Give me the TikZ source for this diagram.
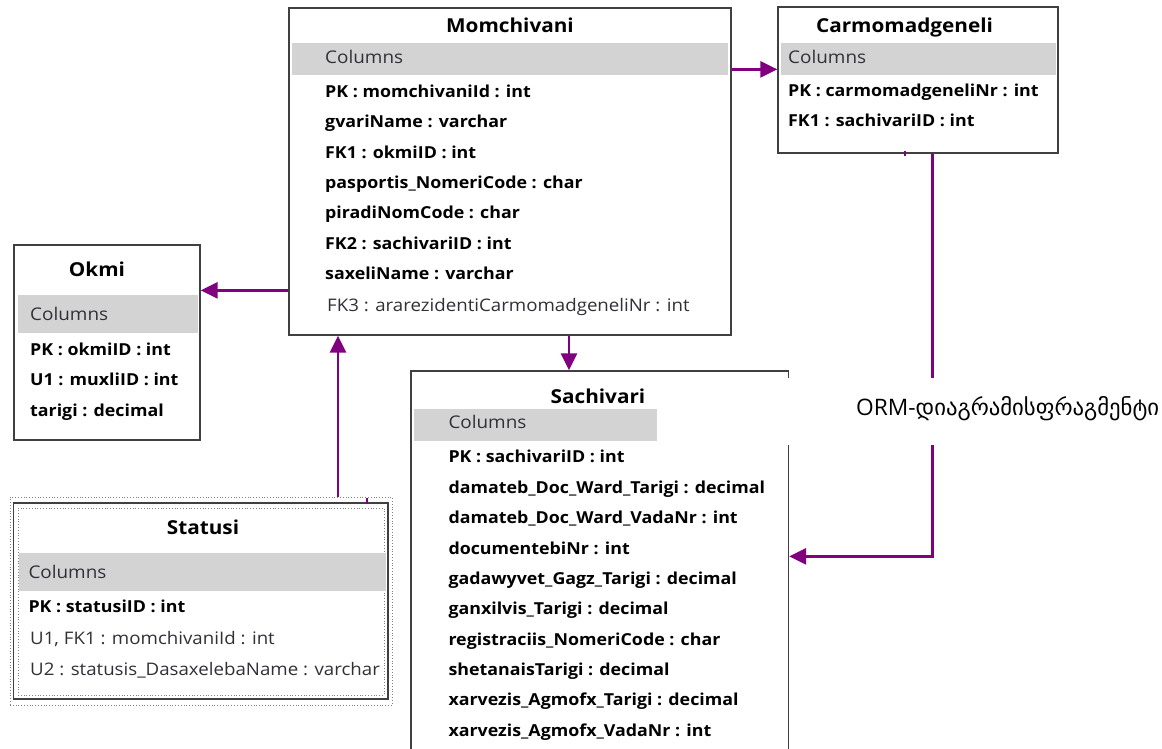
\documentclass[tikz,border=0pt]{standalone}
\usepackage{fontspec}
\setmainfont{Open Sans}[FakeStretch=1.08]
\newfontfamily\capfont{Open Sans}
\newfontfamily\geofont{DejaVu Sans}
\usetikzlibrary{arrows.meta}
\definecolor{purp}{HTML}{800080}
\definecolor{bordr}{HTML}{404040}
\definecolor{barg}{HTML}{D3D3D3}
\definecolor{txtg}{HTML}{303038}
\begin{document}
\begin{tikzpicture}[x=1pt,y=-1pt,
 tbl/.style={draw=bordr,line width=1.3pt,inner sep=0pt,fill=white},
 bar/.style={fill=barg,draw=none,inner sep=0pt},
 ttl/.style={font=\fontsize{19.2}{22}\selectfont\bfseries,inner sep=0pt,anchor=base,text=black},
 colh/.style={font=\fontsize{17.5}{20}\selectfont,anchor=base west,inner sep=0pt,text=txtg},
 rowb/.style={font=\fontsize{16.5}{19}\selectfont\bfseries,anchor=base west,inner sep=0pt,text=black},
 rown/.style={font=\fontsize{17.3}{20}\selectfont,anchor=base west,inner sep=0pt,text=txtg},
 link/.style={draw=purp,line width=2.6pt,-{Triangle[length=17pt,width=16pt]}},
 dotbox/.style={draw=gray,line width=0.8pt,dotted,inner sep=0pt},
]
\useasboundingbox (0,0) rectangle (1162,748);
\fill[white] (0,0) rectangle (1162,748);

% ---------- Momchivani ----------
\node[tbl,minimum width=442pt,minimum height=327pt] (mom) at (510,171.5) {};
\node[bar,minimum width=436pt,minimum height=32pt] (mombar) at (510,59) {};
\node[ttl] (momt) at (510,32) {Momchivani};
\node[colh] (momc) at (325,63) {Columns};
\node[rowb] (m1) at (325,97.3) {PK : momchivaniId : int};
\node[rowb] (m2) at (325,127.6) {gvariName : varchar};
\node[rowb] (m3) at (325,158) {FK1 : okmiID : int};
\node[rowb] (m4) at (325,188.3) {pasportis\_NomeriCode : char};
\node[rowb] (m5) at (325,218.6) {piradiNomCode : char};
\node[rowb] (m6) at (325,249) {FK2 : sachivariID : int};
\node[rowb] (m7) at (325,279.3) {saxeliName : varchar};
\node[rown] (m8) at (327,311.7) {FK3 : ararezidentiCarmomadgeneliNr : int};

% ---------- Carmomadgeneli ----------
\node[tbl,minimum width=280pt,minimum height=146pt] (carmo) at (918,80) {};
\node[bar,minimum width=275pt,minimum height=32pt] (carmobar) at (918.5,59) {};
\node[ttl] (carmot) at (904.5,32) {Carmomadgeneli};
\node[colh] (carmoc) at (788,63.3) {Columns};
\node[rowb] (c1) at (788,96.7) {PK : carmomadgeneliNr : int};
\node[rowb] (c2) at (788,126.7) {FK1 : sachivariID : int};

% ---------- Okmi ----------
\node[tbl,minimum width=186pt,minimum height=195pt] (okmi) at (107,342.5) {};
\node[bar,minimum width=180pt,minimum height=38pt] (okmibar) at (108,314) {};
\node[ttl] (okmit) at (97,276.7) {Okmi};
\node[colh] (okmic) at (30,320.7) {Columns};
\node[rowb] (o1) at (30,355) {PK : okmiID : int};
\node[rowb] (o2) at (30,385) {U1 : muxliID : int};
\node[rowb] (o3) at (30,416) {tarigi : decimal};

% ---------- Statusi ----------
\node[dotbox,minimum width=382pt,minimum height=208pt] (statout) at (201,601) {};
\node[tbl,minimum width=374.5pt,minimum height=196pt] (stat) at (200.75,601) {};
\node[dotbox,minimum width=366pt,minimum height=187pt] (statin) at (201,601.5) {};
\node[bar,minimum width=367pt,minimum height=38pt] (statbar) at (202,572) {};
\node[ttl] (statt) at (203,534.3) {Statusi};
\node[colh] (statc) at (28.3,578.3) {Columns};
\node[rowb] (s1) at (28.3,612.7) {PK : statusiID : int};
\node[rown] (s2) at (30,644) {U1, FK1 : momchivaniId : int};
\node[rown] (s3) at (30,675) {U2 : statusis\_DasaxelebaName : varchar};

% ---------- Sachivari ----------
\node[tbl,minimum width=377.5pt,minimum height=390pt] (sach) at (599.75,566) {};
\node[bar,minimum width=372pt,minimum height=32pt] (sachbar) at (600,425) {};
\node[ttl] (sacht) at (598,403.3) {Sachivari};
\node[colh] (sachc) at (448.3,428.3) {Columns};
\node[rowb] (r1) at (448.3,462.7) {PK : sachivariID : int};
\node[rowb] (r2) at (448.3,493) {damateb\_Doc\_Ward\_Tarigi : decimal};
\node[rowb] (r3) at (448.3,523.5) {damateb\_Doc\_Ward\_VadaNr : int};
\node[rowb] (r4) at (448.3,554) {documentebiNr : int};
\node[rowb] (r5) at (448.3,584) {gadawyvet\_Gagz\_Tarigi : decimal};
\node[rowb] (r6) at (448.3,614.5) {ganxilvis\_Tarigi : decimal};
\node[rowb] (r7) at (448.3,645) {registraciis\_NomeriCode : char};
\node[rowb] (r8) at (448.3,675) {shetanaisTarigi : decimal};
\node[rowb] (r9) at (448.3,705.5) {xarvezis\_Agmofx\_Tarigi : decimal};
\node[rowb] (r10) at (448.3,736) {xarvezis\_Agmofx\_VadaNr : int};

% ---------- connectors ----------
\draw[link] ([yshift=-62pt]mom.north east) -- ([yshift=-63pt]carmo.north west);
\draw[link] ([yshift=-283pt]mom.north west) -- ([yshift=-46pt]okmi.north east);
\draw[link] ([xshift=59pt]mom.south) -- ([xshift=-30.75pt]sach.north);
\draw[link] ([xshift=137pt]statout.north) -- ([xshift=-172pt]mom.south);
\draw[link] ([xshift=14.3pt]carmo.south) |- ([yshift=-186pt]sach.north east);

% small marks
\coordinate (tk1a) at (905,151); \coordinate (tk1b) at (905,156);
\coordinate (tk2a) at (367,498); \coordinate (tk2b) at (367,504);
\draw[purp,line width=2pt] (tk1a) -- (tk1b);
\draw[purp,line width=2pt] (tk2a) -- (tk2b);

% ---------- caption ----------
\fill[white] (657,378) rectangle (1162,445);
\node[font=\capfont\fontsize{22.7}{26}\selectfont,anchor=base west,inner sep=0pt,text=black] (cap) at (856,415) {ORM-{\geofont დიაგრამისფრაგმენტი}};
\end{tikzpicture}
\end{document}
